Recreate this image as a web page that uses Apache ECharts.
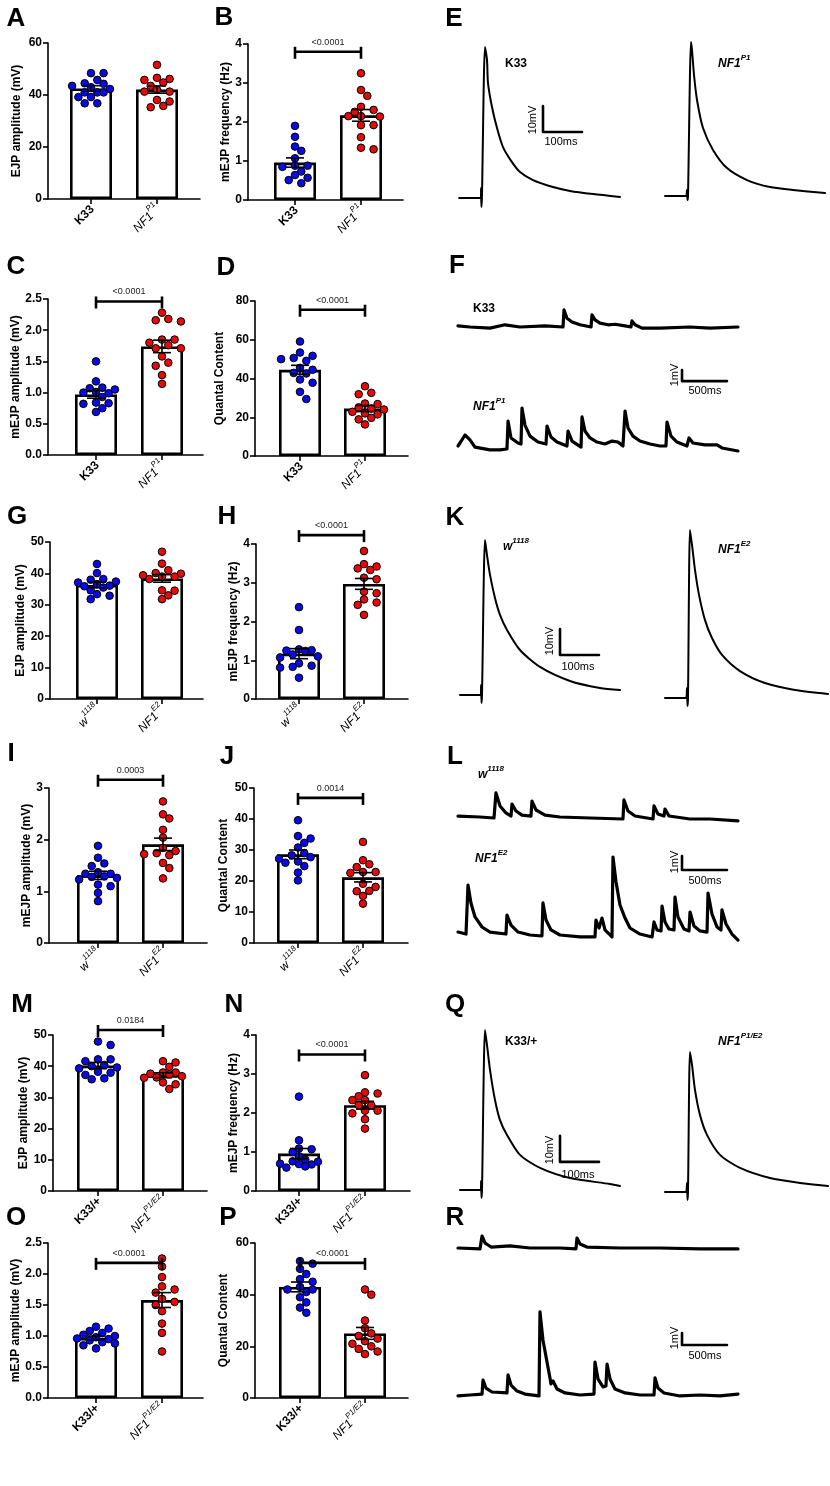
<!DOCTYPE html>
<html><head><meta charset="utf-8">
<script src="https://cdn.jsdelivr.net/npm/echarts@6/dist/echarts.min.js"></script>
<style>html,body{margin:0;padding:0;background:#fff}#c{width:830px;height:1486px}</style>
</head><body><div id="c"></div>
<script>
// ---------------- DATA ----------------
const genoP1 = ['K33', 'NF1^P1'];
const genoE2 = ['w^1118', 'NF1^E2'];
const genoPE = ['K33/+', 'NF1^P1/E2'];

const A_ctrl = [48.4, 48.4, 45.8, 44.5, 44.3, 43.5, 43.0, 42.3, 41.0, 41.0, 41.0, 39.2, 39.2, 36.8, 36.8];
const A_mut  = [51.6, 46.6, 46.2, 45.8, 44.8, 43.5, 42.0, 41.3, 41.3, 38.1, 37.5, 35.8, 35.3];
const A_mean = [42.5, 42.1], A_sem = [1.1, 1.4];

const B_ctrl = [1.90, 1.62, 1.37, 1.26, 1.07, 0.88, 0.88, 0.85, 0.73, 0.64, 0.57, 0.51, 0.43];
const B_mut  = [3.25, 2.82, 2.67, 2.39, 2.31, 2.26, 2.15, 2.15, 2.14, 1.92, 1.92, 1.61, 1.34, 1.30];
const B_mean = [0.96, 2.17], B_sem = [0.12, 0.15];

const C_ctrl = [1.50, 1.18, 1.08, 1.07, 1.05, 1.01, 1.00, 0.99, 0.93, 0.84, 0.83, 0.82, 0.75, 0.69];
const C_mut  = [2.28, 2.18, 2.16, 2.14, 1.85, 1.85, 1.80, 1.76, 1.71, 1.71, 1.58, 1.48, 1.43, 1.28, 1.14];
const C_mean = [0.97, 1.74], C_sem = [0.06, 0.10];

const D_ctrl = [59.1, 53.4, 51.7, 50.6, 50.0, 49.1, 45.5, 44.5, 42.9, 42.6, 39.5, 37.8, 33.1, 29.4];
const D_mut  = [36.0, 32.6, 31.9, 27.1, 26.8, 25.1, 24.5, 24.0, 22.8, 22.0, 21.5, 19.7, 18.9, 16.3];
const D_mean = [44.5, 24.5], D_sem = [2.3, 1.6];

const G_ctrl = [43.0, 40.1, 38.2, 38.0, 37.4, 37.1, 36.6, 36.1, 35.9, 35.5, 34.6, 33.4, 32.9, 31.8];
const G_mut  = [46.9, 43.1, 41.0, 40.1, 39.9, 39.4, 39.0, 39.0, 38.2, 34.6, 34.5, 33.0, 31.8];
const G_mean = [36.3, 38.4], G_sem = [0.9, 1.2];

const H_ctrl = [2.37, 1.78, 1.28, 1.26, 1.25, 1.24, 1.15, 1.10, 1.07, 0.92, 0.86, 0.83, 0.81, 0.55];
const H_mut  = [3.82, 3.48, 3.42, 3.37, 3.33, 3.13, 3.09, 2.77, 2.73, 2.57, 2.49, 2.43, 2.17];
const H_mean = [1.17, 2.97], H_sem = [0.13, 0.14];

const I_ctrl = [1.88, 1.65, 1.54, 1.49, 1.37, 1.34, 1.34, 1.29, 1.28, 1.26, 1.23, 1.13, 1.10, 0.97, 0.81];
const I_mut  = [2.74, 2.49, 2.41, 2.19, 2.04, 1.84, 1.78, 1.74, 1.72, 1.70, 1.55, 1.45, 1.25];
const I_mean = [1.31, 1.91], I_sem = [0.08, 0.12];

const J_ctrl = [39.6, 34.5, 33.7, 32.3, 30.8, 29.0, 28.3, 27.7, 27.2, 26.3, 25.9, 24.8, 22.7, 20.2];
const J_mut  = [32.6, 26.7, 25.4, 24.5, 22.9, 22.9, 22.6, 19.1, 18.1, 16.8, 16.7, 15.2, 12.7];
const J_mean = [28.6, 21.2], J_sem = [1.4, 1.5];

const M_ctrl = [47.9, 46.8, 42.2, 42.2, 41.6, 40.4, 40.0, 39.6, 39.3, 38.2, 37.9, 37.2, 36.1, 35.8];
const M_mut  = [41.6, 41.2, 39.8, 38.0, 38.0, 37.6, 37.4, 36.8, 36.4, 36.3, 34.8, 34.2, 32.7];
const M_mean = [40.2, 37.1], M_sem = [1.0, 0.8];

const N_ctrl = [2.42, 1.30, 1.09, 1.07, 1.00, 0.89, 0.80, 0.76, 0.75, 0.70, 0.69, 0.68, 0.63, 0.60];
const N_mut  = [2.97, 2.53, 2.50, 2.43, 2.33, 2.33, 2.20, 2.20, 2.06, 2.06, 1.99, 1.84, 1.60];
const N_mean = [0.96, 2.20], N_sem = [0.13, 0.10];

const O_ctrl = [1.15, 1.12, 1.08, 1.05, 1.02, 1.00, 0.98, 0.96, 0.95, 0.93, 0.90, 0.88, 0.85, 0.80];
const O_mut  = [2.25, 2.12, 1.95, 1.80, 1.75, 1.70, 1.60, 1.55, 1.50, 1.40, 1.20, 1.05, 0.75];
const O_mean = [0.97, 1.58], O_sem = [0.03, 0.12];

const P_ctrl = [53, 52, 50, 48, 46, 45, 43, 42, 42, 41, 39, 37, 35, 33];
const P_mut  = [42, 40, 30, 27, 25, 24, 23, 22, 21, 20, 19, 18, 17];
const P_mean = [43.0, 25.0], P_sem = [1.9, 2.3];

// y axis: max, interval
const yMaxes     = {A:60, B:4, C:2.5, D:80, G:50, H:4, I:3, J:50, M:50, N:4, O:2.5, P:60};
const yIntervals = {A:20, B:1, C:0.5, D:20, G:10, H:1, I:1, J:10, M:10, N:1, O:0.5, P:20};
const yNames = {A:'EJP amplitude (mV)', B:'mEJP frequency (Hz)', C:'mEJP amplitude (mV)', D:'Quantal Content',
  G:'EJP amplitude (mV)', H:'mEJP frequency (Hz)', I:'mEJP amplitude (mV)', J:'Quantal Content',
  M:'EJP amplitude (mV)', N:'mEJP frequency (Hz)', O:'mEJP amplitude (mV)', P:'Quantal Content'};

// significance brackets
const bracketPanels = ['B', 'C', 'D', 'H', 'I', 'J', 'M', 'N', 'O', 'P'];
const bracketY = [3.8, 2.46, 75.5, 4.23, 3.16, 46.8, 51.6, 3.5, 2.18, 52.3];
const bracketP = ['<0.0001', '<0.0001', '<0.0001', '<0.0001', '0.0003', '0.0014', '0.0184', '<0.0001', '<0.0001', '<0.0001'];

// EJP traces [ms, mV]
const E_ctrl_trace = [[49,0],[105,0],[105.3,3.8],[106,-3.5],[107.5,0],[115.4,58.1],[120.5,53.1],[123.1,44.2],[133.3,35.0],[146.2,26.9],[161.5,19.6],[184.6,13.8],[205.1,10.0],[238.5,6.9],[289.7,4.2],[333.3,2.7],[392.3,1.5],[461.5,0.4]];
const E_mut_trace = [[577,0.8],[630.8,0.8],[633.3,3.1],[634.6,-0.8],[635.9,0.8],[643.6,60],[646.2,56.9],[651.3,47.3],[659,37.7],[674.4,26.9],[700,18.5],[735.9,11.5],[787.2,6.9],[846.2,4.2],[905.1,3.1],[987.2,1.9]];
const K_ctrl_trace = [[51.3,0],[105,0],[105.3,3.8],[106.4,-3.1],[107.7,0],[115.4,59.6],[120.5,53.8],[128.2,46.2],[141,37.3],[153.8,30.8],[171.8,25],[205.1,17.3],[256.4,10.8],[333.3,5.4],[410.3,2.7],[461.5,1.9]];
const K_mut_trace = [[576.9,-1.2],[630.8,-1.2],[633.3,2.7],[634.6,-4.2],[635.9,-1.2],[641,63.5],[646.2,57.7],[653.8,48.1],[664.1,38.5],[679.5,28.8],[697.4,21.9],[723.1,15.4],[769.2,9.2],[833.3,4.6],[910.3,1.9],[994.9,0.4]];
const Q_ctrl_trace = [[51.3,0],[105,0],[105.3,3.5],[106.4,-3.1],[107.7,0],[115.4,61.5],[120.5,55.8],[128.2,46.2],[141,34.6],[153.8,26.9],[171.8,21.2],[205.1,13.5],[256.4,8.5],[333.3,4.6],[435.9,2.3],[461.5,1.5]];
const Q_mut_trace = [[576.9,-0.8],[630.8,-0.8],[633.3,2.7],[634.6,-3.8],[635.9,-0.8],[641,53.1],[646.2,48.1],[653.8,38.5],[666.7,28.8],[684.6,21.2],[717.9,13.5],[769.2,8.5],[846.2,4.6],[923.1,2.7],[994.9,1.5]];
const E_scale = [264.1, 25.4], K_scale = [307.7, 15.4], Q_scale = [307.7, 10.8];
const EJP_bar = [100, 10]; // ms, mV

// mEJP traces [ms, mV]
const F_ctrl_trace = [[200,0.1],[333,0],[556,-0.1],[722,0.2],[889,0],[1167,0.1],[1367,0],[1378,1.55],[1411,0.8],[1467,0.45],[1556,0.2],[1678,0],[1689,1.1],[1722,0.65],[1778,0.35],[1867,0.2],[1944,0.25],[2056,0.1],[2122,0],[2133,0.55],[2167,0.2],[2244,-0.1],[2444,-0.1],[2778,0],[3000,-0.1],[3311,0]];
const F_mut_trace = [[200,0],[244,0.55],[278,1.0],[333,0.55],[389,-0.1],[556,-0.35],[667,-0.35],[744,-0.27],[756,2.27],[789,0.73],[867,0.27],[900,0.18],[911,3.45],[944,1.9],[1000,0.9],[1089,0.36],[1178,0.18],[1189,1.82],[1233,0.82],[1300,0.36],[1411,0],[1422,1.36],[1467,0.45],[1567,-0.1],[1578,2.64],[1611,1.36],[1667,0.73],[1744,0.36],[1833,0.18],[1911,0.45],[1978,0.36],[2033,0],[2056,3.18],[2089,1.64],[2144,0.9],[2222,0.45],[2333,0.18],[2444,0],[2511,0],[2522,2.18],[2567,0.9],[2633,0.36],[2744,0],[2767,0.73],[2811,0.27],[2944,0.1],[3078,0.1],[3133,-0.18],[3311,-0.45]];
const L_ctrl_trace = [[200,0.14],[444,0.07],[600,0],[622,1.79],[667,0.86],[733,0.36],[789,0.14],[800,1.0],[844,0.5],[911,0.21],[1011,0.14],[1022,1.21],[1067,0.57],[1167,0.21],[1333,0.07],[1667,0],[2033,-0.07],[2044,1.29],[2089,0.5],[2167,0.14],[2367,-0.07],[2378,0.86],[2422,0.29],[2489,0.14],[2500,0.64],[2544,0.14],[2778,-0.07],[3000,-0.07],[3311,-0.21]];
const L_mut_trace = [[200,0.21],[289,0.07],[311,3.57],[344,2.29],[389,1.29],[467,0.57],[556,0.21],[733,0.07],[744,1.43],[789,0.71],[867,0.21],[1000,0],[1133,-0.07],[1144,2.29],[1178,1.07],[1233,0.36],[1333,0],[1556,-0.14],[1722,-0.14],[1733,1.07],[1767,0.5],[1789,0.64],[1800,1.21],[1833,0.36],[1911,-0.14],[1922,5.57],[1956,3.79],[2000,2.14],[2056,1.21],[2111,0.5],[2222,0.07],[2356,-0.14],[2378,0.93],[2411,0.36],[2456,0.29],[2467,2.07],[2500,0.93],[2544,0.43],[2600,0.36],[2611,2.71],[2644,1.29],[2711,0.43],[2767,0.29],[2778,1.64],[2822,0.64],[2889,0.29],[2967,0.21],[2978,3.0],[3022,1.5],[3078,0.57],[3122,0.36],[3133,1.79],[3178,0.79],[3244,0.07],[3311,-0.36]];
const R_ctrl_trace = [[200,0],[444,-0.08],[467,1.0],[500,0.42],[567,0.08],[778,0.17],[1000,0],[1333,0],[1511,-0.08],[1522,0.83],[1556,0.33],[1633,0.08],[2000,0],[2444,0],[2889,-0.08],[3311,-0.08]];
const R_mut_trace = [[200,-0.08],[333,0],[467,0.08],[478,1.25],[511,0.58],[578,0.25],[744,0.17],[756,1.67],[789,0.83],[856,0.33],[944,0.08],[1100,-0.08],[1111,6.92],[1144,4.58],[1189,2.75],[1222,1.42],[1233,0.92],[1256,1.17],[1300,0.5],[1389,0.17],[1556,0],[1711,0.08],[1722,2.75],[1756,1.33],[1811,0.67],[1844,0.75],[1856,2.58],[1889,1.33],[1944,0.5],[2056,0.17],[2222,0],[2378,0],[2389,1.42],[2422,0.58],[2489,0.17],[2667,-0.08],[2889,0],[3111,-0.08],[3311,0.08]];
const F_scale = [2689, 5.9], L_scale = [2689, 4.64], R_scale = [2689, 4.17];
const MEJP_bar = [500, 1]; // ms, mV

// ---------------- LAYOUT / STYLE ----------------
const FONT = '"Liberation Sans", Arial, Helvetica, sans-serif';
const BLUE = '#0a0ae6', RED = '#e60a0a';
// [left, right, top(y at max), bottom(y at 0), center1, center2, nameGap]
const barLayout = {
  A:[48,200,43,199,91,157,25], B:[248,403,44,200,295,361,12],
  C:[48,203,299,455,96,162,23], D:[255,408,301,456,300,365,29],
  G:[50,203,542,699,97,162,22], H:[256,408,544,699,299,364,16],
  I:[49,207,788,943,98,163,10], J:[254,408,788,943,298,363,24],
  M:[53,207,1035,1191,98,163,23], N:[256,410,1035,1191,299,365,16],
  O:[48,203,1243,1398,96,162,23], P:[255,408,1243,1398,300,365,25]
};
const panelData = {
  A:[genoP1,A_ctrl,A_mut,A_mean,A_sem], B:[genoP1,B_ctrl,B_mut,B_mean,B_sem],
  C:[genoP1,C_ctrl,C_mut,C_mean,C_sem], D:[genoP1,D_ctrl,D_mut,D_mean,D_sem],
  G:[genoE2,G_ctrl,G_mut,G_mean,G_sem], H:[genoE2,H_ctrl,H_mut,H_mean,H_sem],
  I:[genoE2,I_ctrl,I_mut,I_mean,I_sem], J:[genoE2,J_ctrl,J_mut,J_mean,J_sem],
  M:[genoPE,M_ctrl,M_mut,M_mean,M_sem], N:[genoPE,N_ctrl,N_mut,N_mean,N_sem],
  O:[genoPE,O_ctrl,O_mut,O_mean,O_sem], P:[genoPE,P_ctrl,P_mut,P_mean,P_sem]
};

const axisRich = {
  b:{fontFamily:FONT,fontWeight:'bold',fontSize:12,color:'#000',lineHeight:16,verticalAlign:'bottom'},
  i:{fontFamily:FONT,fontStyle:'italic',fontSize:12,color:'#000',lineHeight:16,verticalAlign:'bottom'},
  is:{fontFamily:FONT,fontStyle:'italic',fontSize:8,color:'#000',lineHeight:9,verticalAlign:'top'},
  bs:{fontFamily:FONT,fontWeight:'bold',fontSize:8,color:'#000',lineHeight:9,verticalAlign:'top'}
};
const labelRich = {
  b:{fontFamily:FONT,fontWeight:'bold',fontSize:12,fill:'#000',lineHeight:16,verticalAlign:'bottom'},
  i:{fontFamily:FONT,fontWeight:'bold',fontStyle:'italic',fontSize:12,fill:'#000',lineHeight:16,verticalAlign:'bottom'},
  is:{fontFamily:FONT,fontWeight:'bold',fontStyle:'italic',fontSize:8,fill:'#000',lineHeight:9,verticalAlign:'top'},
  bs:{fontFamily:FONT,fontWeight:'bold',fontSize:8,fill:'#000',lineHeight:9,verticalAlign:'top'}
};
function fmtGeno(s) {
  const parts = s.split('^');
  const it = /^(NF1|w)/.test(parts[0]);
  let out = '{' + (it ? 'i' : 'b') + '|' + parts[0] + '}';
  if (parts[1]) out += '{' + (it ? 'is' : 'bs') + '|' + parts[1] + '}';
  return out;
}

// beeswarm layout in pixel space, limited to the bar width
function swarm(vals, cat, pxPerY, pxPerX) {
  const step = 6.3, minD = 7.2;
  const cands = [0, 1, -1, 2, -2, 3, -3];
  const placed = [];
  const order = vals.map((v, i) => i).sort((a, b) => vals[b] - vals[a]);
  const out = [];
  for (const i of order) {
    const yp = vals[i] * pxPerY;
    let best = 0, bestD = -1;
    for (const k of cands) {
      const xp = k * step;
      const d = placed.reduce((m, p) => Math.min(m, Math.hypot(p[0] - xp, p[1] - yp)), Infinity);
      if (d >= minD) { best = xp; bestD = d; break; }
      if (d > bestD + 0.5) { bestD = d; best = xp; }
    }
    placed.push([best, yp]);
    out.push([cat + best / pxPerX, vals[i]]);
  }
  return out;
}

const grids = [], xAxes = [], yAxes = [], series = [], graphics = [];
const blk = {color:'#000', width:1.6};

function addBarPanel(key) {
  const [L, R, T, B, c1, c2, gap] = barLayout[key];
  const [geno, ctrl, mut, means, sems] = panelData[key];
  const yMax = yMaxes[key], yInt = yIntervals[key];
  const dec = yInt < 1 ? 1 : 0;
  const unit = c2 - c1, pxPerY = (B - T) / yMax;
  const gi = grids.length;
  grids.push({left:L, top:T, width:R - L, height:B - T});
  xAxes.push({type:'value', gridIndex:gi, min:-(c1 - L) / unit, max:1 + (R - c2) / unit,
    splitLine:{show:false},
    axisLine:{show:true, onZero:false, lineStyle:blk},
    axisTick:{show:true, customValues:[0, 1], length:5, lineStyle:blk},
    axisLabel:{customValues:[0, 1], rotate:45, margin:7, formatter:v => fmtGeno(geno[Math.round(v)]), rich:axisRich}});
  yAxes.push({type:'value', gridIndex:gi, min:0, max:yMax, interval:yInt, splitLine:{show:false},
    axisLine:{show:true, onZero:false, lineStyle:blk},
    axisTick:{show:true, length:5, lineStyle:blk},
    axisLabel:{color:'#000', fontWeight:'bold', fontSize:12, fontFamily:FONT, margin:6, formatter:v => v.toFixed(dec)},
    name:yNames[key], nameLocation:'middle', nameRotate:90, nameGap:gap,
    nameTextStyle:{color:'#000', fontWeight:'bold', fontSize:12, fontFamily:FONT}});
  series.push({type:'bar', xAxisIndex:gi, yAxisIndex:gi, barWidth:42, z:2, silent:true,
    data:[[0, means[0]], [1, means[1]]],
    itemStyle:{color:'#fff', borderColor:'#000', borderWidth:2.6}});
  series.push({type:'scatter', xAxisIndex:gi, yAxisIndex:gi, z:3, silent:true, symbolSize:7.6,
    data:swarm(ctrl, 0, pxPerY, unit), itemStyle:{color:BLUE, borderColor:'#000', borderWidth:1, opacity:1}});
  series.push({type:'scatter', xAxisIndex:gi, yAxisIndex:gi, z:3, silent:true, symbolSize:7.6,
    data:swarm(mut, 1, pxPerY, unit), itemStyle:{color:RED, borderColor:'#000', borderWidth:1, opacity:1}});
  series.push({type:'custom', xAxisIndex:gi, yAxisIndex:gi, z:4, silent:true, encode:{x:0, y:1},
    data:[[0, means[0], sems[0]], [1, means[1], sems[1]]],
    renderItem:(p, api) => {
      const x = api.value(0), m = api.value(1), s = api.value(2);
      const t = api.coord([x, m + s]), b = api.coord([x, m - s]);
      const st = {stroke:'#000', lineWidth:1.6};
      return {type:'group', children:[
        {type:'line', shape:{x1:t[0], y1:t[1], x2:b[0], y2:b[1]}, style:st},
        {type:'line', shape:{x1:t[0] - 9, y1:t[1], x2:t[0] + 9, y2:t[1]}, style:st},
        {type:'line', shape:{x1:b[0] - 9, y1:b[1], x2:b[0] + 9, y2:b[1]}, style:st}]};
    }});
  const bi = bracketPanels.indexOf(key);
  if (bi >= 0) {
    series.push({type:'custom', xAxisIndex:gi, yAxisIndex:gi, z:5, silent:true, clip:false, encode:{x:0, y:1},
      data:[[0, bracketY[bi], 1]],
      renderItem:(p, api) => {
        const y = api.value(1);
        const a = api.coord([api.value(0), y]), c = api.coord([api.value(2), y]);
        const st = {stroke:'#000', lineWidth:2.6};
        return {type:'group', children:[
          {type:'line', shape:{x1:a[0], y1:a[1], x2:c[0], y2:c[1]}, style:st},
          {type:'line', shape:{x1:a[0], y1:a[1] - 5, x2:a[0], y2:a[1] + 7}, style:st},
          {type:'line', shape:{x1:c[0], y1:c[1] - 5, x2:c[0], y2:c[1] + 7}, style:st},
          {type:'text', x:(a[0] + c[0]) / 2, y:a[1] - 5,
            style:{text:bracketP[bi], fontSize:9, fontFamily:FONT, fill:'#222', align:'center', verticalAlign:'bottom'}}]};
      }});
  }
}
Object.keys(barLayout).forEach(addBarPanel);

// trace grids
function addTraceGrid(top, height, xMax, yMin, yMax) {
  const gi = grids.length;
  grids.push({left:440, top:top, width:390, height:height});
  xAxes.push({type:'value', gridIndex:gi, min:0, max:xMax, show:false});
  yAxes.push({type:'value', gridIndex:gi, min:yMin, max:yMax, show:false});
  return gi;
}
function addLine(gi, data, width, smooth) {
  series.push({type:'line', xAxisIndex:gi, yAxisIndex:gi, data:data, showSymbol:false, symbol:'none',
    smooth:smooth, clip:false, silent:true, z:3,
    lineStyle:{color:'#000', width:width, join:'round', cap:'round'}});
}
function scaleData(c, len) {
  return [[c[0], c[1] + len[1]], [c[0], c[1]], [c[0] + len[0], c[1]]];
}
const PXMV_EJP = 2.6;
function addEJPRow(baseY, ctrl, mut, scale) {
  const gi = addTraceGrid(baseY - 68 * PXMV_EJP, 73 * PXMV_EJP, 1000, -5, 68);
  addLine(gi, ctrl, 2, 0.25);
  addLine(gi, mut, 2, 0.25);
  addLine(gi, scaleData(scale, EJP_bar), 2.6, false);
}
function addMEJPRow(topBase, botBase, pxmv, ctrl, mut, scale) {
  const g1 = addTraceGrid(topBase - 3 * pxmv, 4.5 * pxmv, 390 / 0.09, -1.5, 3);
  addLine(g1, ctrl, 3.2, false);
  const g2 = addTraceGrid(botBase - 8 * pxmv, 9 * pxmv, 390 / 0.09, -1, 8);
  addLine(g2, mut, 3.2, false);
  addLine(g2, scaleData(scale, MEJP_bar), 2.6, false);
}
addEJPRow(198, E_ctrl_trace, E_mut_trace, E_scale);
addEJPRow(695, K_ctrl_trace, K_mut_trace, K_scale);
addEJPRow(1190, Q_ctrl_trace, Q_mut_trace, Q_scale);
addMEJPRow(327, 446, 11, F_ctrl_trace, F_mut_trace, F_scale);
addMEJPRow(818, 935, 14, L_ctrl_trace, L_mut_trace, L_scale);
addMEJPRow(1248, 1395, 12, R_ctrl_trace, R_mut_trace, R_scale);

// texts
const letters = [['A',16,19],['B',224,18],['E',454,19],['C',16,267],['D',226,268],['F',457,266],
  ['G',17,517],['H',227,517],['K',455,518],['I',11,754],['J',227,757],['L',455,757],
  ['M',22,1005],['N',234,1005],['Q',455,1005],['O',16,1218],['P',228,1218],['R',455,1218]];
letters.forEach(l => graphics.push({type:'text', x:l[1], y:l[2], silent:true,
  style:{text:l[0], fontSize:26, fontWeight:'bold', fontFamily:FONT, fill:'#000', align:'center', verticalAlign:'middle'}}));

function geno(x, y, s) {
  graphics.push({type:'text', x:x, y:y, silent:true,
    style:{text:fmtGeno(s), rich:labelRich, align:'left', verticalAlign:'middle'}});
}
function small(x, y, s, rot) {
  graphics.push({type:'text', x:x, y:y, rotation:rot || 0, silent:true,
    style:{text:s, fontSize:11, fontFamily:FONT, fill:'#000', align:'center', verticalAlign:'middle'}});
}
geno(505, 62, genoP1[0]); geno(718, 62, genoP1[1]);
small(533, 120, '10mV', Math.PI / 2); small(561, 142, '100ms');
geno(473, 307, genoP1[0]); geno(473, 405, genoP1[1]);
small(675, 375, '1mV', Math.PI / 2); small(705, 391, '500ms');
geno(503, 545, genoE2[0]); geno(718, 548, genoE2[1]);
small(550, 641, '10mV', Math.PI / 2); small(578, 667, '100ms');
geno(478, 773, genoE2[0]); geno(475, 857, genoE2[1]);
small(675, 862, '1mV', Math.PI / 2); small(705, 881, '500ms');
geno(505, 1040, genoPE[0]); geno(718, 1040, genoPE[1]);
small(550, 1150, '10mV', Math.PI / 2); small(578, 1175, '100ms');
small(675, 1338, '1mV', Math.PI / 2); small(705, 1356, '500ms');

const chart = echarts.init(document.getElementById('c'), null, {renderer:'canvas', width:830, height:1486});
chart.setOption({
  animation:false,
  backgroundColor:'#fff',
  textStyle:{fontFamily:FONT},
  grid:grids, xAxis:xAxes, yAxis:yAxes, series:series, graphic:graphics
});
</script></body></html>
